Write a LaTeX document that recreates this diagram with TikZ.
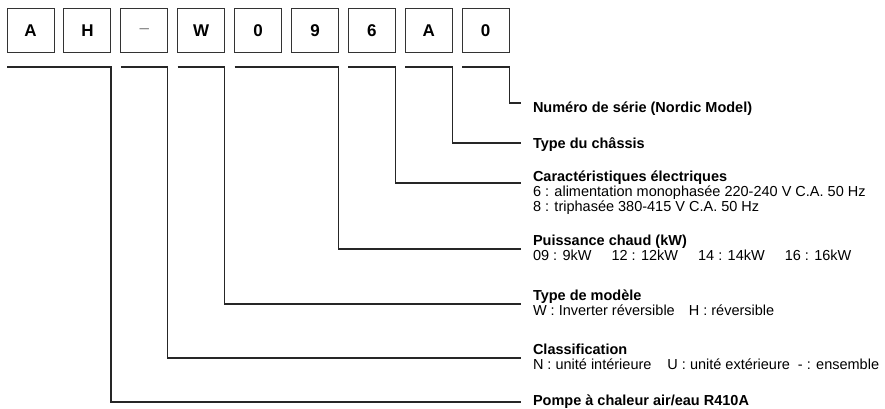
\documentclass[tikz,border=0pt]{standalone}
\usepackage{fontspec}
\setmainfont{Liberation Sans}
\usepackage{tikz}

\begin{document}
\begin{tikzpicture}
  [x=1pt,y=-1pt,line width=1.2pt,
   every node/.style={inner sep=0pt,outer sep=0pt},
   letter/.style={draw=black!80,line width=1pt,minimum width=47pt,minimum height=44pt,
     font=\fontsize{17}{17}\selectfont\bfseries},
   title/.style={anchor=base west,font=\fontsize{14.5}{15}\selectfont\bfseries},
   desc/.style={anchor=base west,font=\fontsize{14.5}{15}\selectfont}]
  \useasboundingbox (0,0) rectangle (885,409);

  % model code
  \foreach \i/\c in {1/A,2/H,3/{\textcolor{gray}{\normalfont\textendash}},4/W,5/0,6/9,7/6,8/A,9/0}
    \node[letter] (b\i) at ({30.5+56.9*(\i-1)},31) {\c};

  % meaning of each part
  \node[title] (t1) at (533,113) {Numéro de série (Nordic Model)};
  \node[title] (t2) at (533,148) {Type du châssis};
  \node[title] (t3) at (533,181) {Caractéristiques électriques};
  \node[desc] (d3) at (533,196) {6 : alimentation monophasée 220-240 V C.A. 50 Hz};
  \node[desc] (d3b) at (533,211) {8 : triphasée 380-415 V C.A. 50 Hz};
  \node[title] (t4) at (533,245) {Puissance chaud (kW)};
  \node[desc] (d4) at (533,260) {09 : 9kW\hspace{20pt}12 : 12kW\hspace{20pt}14 : 14kW\hspace{20pt}16 : 16kW};
  \node[title] (t5) at (533,300) {Type de modèle};
  \node[desc] (d5) at (533,315) {W : Inverter réversible\hspace{14pt}H : réversible};
  \node[title] (t6) at (533,354) {Classification};
  \node[desc] (d6) at (533,369) {N : unité intérieure\hspace{16pt}U : unité extérieure\hspace{8pt}- : ensemble};
  \node[title] (t7) at (533,405) {Pompe à chaleur air/eau R410A};

  \coordinate (e1) at (521,103);
  \coordinate (e2) at (521,143);
  \coordinate (e3) at (521,183);
  \coordinate (e4) at (521,249);
  \coordinate (e5) at (521,304);
  \coordinate (e6) at (521,358);
  \coordinate (e7) at (521,402);

  \foreach \from/\to/\e in {b9/b9/e1,b8/b8/e2,b7/b7/e3,b5/b6/e4,b4/b4/e5,b3/b3/e6,b1/b2/e7}
    \draw[black!85] ([yshift=-14pt]\from.south west) -- ([yshift=-14pt]\to.south east) |- (\e);

\end{tikzpicture}
\end{document}
